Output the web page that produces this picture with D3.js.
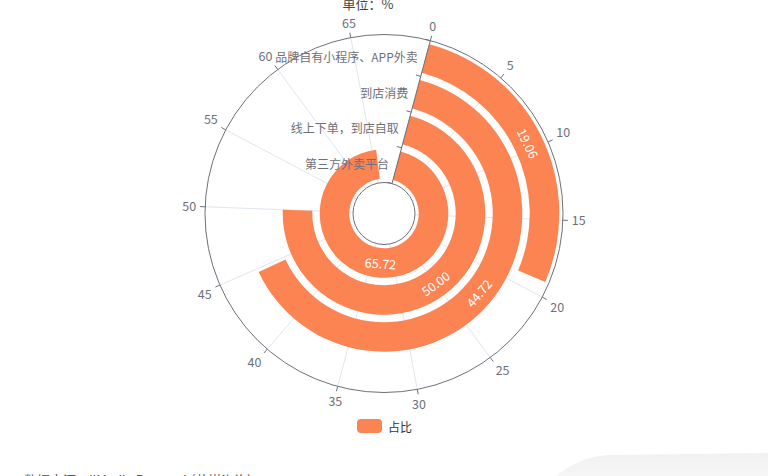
<!DOCTYPE html>
<html>
<head>
<meta charset="utf-8"/>
<script src="https://cdn.jsdelivr.net/npm/d3@7"></script>
<title>Polar bar</title>
<style>
body { margin: 0; background: #fff; }
svg { display: block; font-family: "Noto Sans CJK SC", "Noto Sans", sans-serif; }
</style>
</head>
<body>
<script>
// data
var categories = ["第三方外卖平台", "线上下单，到店自取", "到店消费", "品牌自有小程序、APP外卖"];
var values = [65.72, 50.00, 44.72, 19.06];
var angleTicks = [0, 5, 10, 15, 20, 25, 30, 35, 40, 45, 50, 55, 60, 65];
var seriesName = "占比";
var titleText = "单位：%";
var sourceText = "数据来源：iiMedia Research(艾媒咨询)";

var W = 768, H = 476;
var cx = 384, cy = 213.5, r0 = 31, r1 = 179;
var barColor = "#fc8452", axisColor = "#6E7079", gridColor = "#E0E6F1";
var rad = Math.PI / 180;

var svg = d3.select("body").append("svg")
	.attr("width", W)
	.attr("height", H);

// faint shape in the lower right corner
var grad = svg.append("defs").append("linearGradient")
	.attr("id", "corner").attr("x1", 0).attr("y1", 0).attr("x2", 0).attr("y2", 1);
grad.append("stop").attr("offset", "0%").attr("stop-color", "#f1f1f1");
grad.append("stop").attr("offset", "100%").attr("stop-color", "#f6f6f6");
svg.append("path")
	.attr("d", "M556,476 C575,462 590,455 615,455 L768,453 L768,476 Z")
	.attr("fill", "url(#corner)");

var g = svg.append("g").attr("transform", "translate(" + cx + "," + cy + ")");

//angle axis: 0..70, starting 15 degrees right of top, clockwise
var angle = d3.scaleLinear().domain([0, 70]).range([15 * rad, 375 * rad]);
var radius = d3.scaleBand().domain(categories).range([r0, r1])
	.paddingInner(0.2).paddingOuter(0.1);
var radiusEdge = d3.scaleBand().domain(categories).range([r0, r1]);

function pt(a, r) { return [Math.sin(a) * r, -Math.cos(a) * r]; }

// split lines
g.selectAll("line.split").data(angleTicks).enter().append("line")
	.attr("class", "split")
	.attr("x1", function(d){ return pt(angle(d), r0)[0]; })
	.attr("y1", function(d){ return pt(angle(d), r0)[1]; })
	.attr("x2", function(d){ return pt(angle(d), r1)[0]; })
	.attr("y2", function(d){ return pt(angle(d), r1)[1]; })
	.attr("stroke", gridColor);

// bars
var arc = d3.arc();
g.selectAll("path.bar").data(values).enter().append("path")
	.attr("class", "bar")
	.attr("fill", barColor)
	.attr("d", function(d, i){
		return arc({
			innerRadius: radius(categories[i]),
			outerRadius: radius(categories[i]) + radius.bandwidth(),
			startAngle: angle(0),
			endAngle: angle(d)
		});
	});

// bar labels, tangential
g.selectAll("text.val").data(values).enter().append("text")
	.attr("class", "val")
	.attr("transform", function(d, i){
		var a = (angle(0) + angle(d)) / 2;
		var r = radius(categories[i]) + radius.bandwidth() / 2;
		var p = pt(a, r);
		var deg = a / rad;
		if (deg > 90 && deg < 270) deg -= 180;
		return "translate(" + p[0] + "," + p[1] + ") rotate(" + deg + ")";
	})
	.attr("text-anchor", "middle")
	.attr("dominant-baseline", "central")
	.attr("fill", "#fff")
	.style("font-size", "12.5px")
	.text(function(d){ return d.toFixed(2); });

// angle axis line (outer and inner circle)
g.append("circle").attr("r", r1).attr("fill", "none").attr("stroke", axisColor);
g.append("circle").attr("r", r0).attr("fill", "none").attr("stroke", axisColor);

// angle ticks and labels
g.selectAll("line.atick").data(angleTicks).enter().append("line")
	.attr("class", "atick")
	.attr("x1", function(d){ return pt(angle(d), r1)[0]; })
	.attr("y1", function(d){ return pt(angle(d), r1)[1]; })
	.attr("x2", function(d){ return pt(angle(d), r1 + 5)[0]; })
	.attr("y2", function(d){ return pt(angle(d), r1 + 5)[1]; })
	.attr("stroke", axisColor);

g.selectAll("text.alabel").data(angleTicks).enter().append("text")
	.attr("class", "alabel")
	.each(function(d){
		var a = angle(d), p = pt(a, r1 + 9);
		var sx = Math.sin(a), sy = -Math.cos(a);
		var anchor = Math.abs(sx) < 0.3 ? "middle" : (sx > 0 ? "start" : "end");
		var dy = Math.abs(sy) < 0.3 ? "0.35em" : (sy > 0 ? "0.85em" : "-0.1em");
		d3.select(this)
			.attr("x", p[0]).attr("y", p[1]).attr("dy", dy)
			.attr("text-anchor", anchor);
	})
	.attr("fill", axisColor)
	.style("font-size", "12.5px")
	.text(function(d){ return d; });

// radius axis along the start angle
var a0 = angle(0);
var ux = Math.sin(a0), uy = -Math.cos(a0);   // along axis
var nx = -Math.cos(a0), ny = -Math.sin(a0);  // perpendicular, to the left
g.append("line")
	.attr("x1", ux * r0).attr("y1", uy * r0)
	.attr("x2", ux * r1).attr("y2", uy * r1)
	.attr("stroke", axisColor);

var edges = categories.map(function(c){ return radiusEdge(c); }).concat([r1]);
g.selectAll("line.rtick").data(edges).enter().append("line")
	.attr("class", "rtick")
	.attr("x1", function(r){ return ux * r; })
	.attr("y1", function(r){ return uy * r; })
	.attr("x2", function(r){ return ux * r + nx * 5; })
	.attr("y2", function(r){ return uy * r + ny * 5; })
	.attr("stroke", axisColor);

g.selectAll("text.rlabel").data(categories).enter().append("text")
	.attr("class", "rlabel")
	.attr("x", function(c){ var r = radiusEdge(c) + radiusEdge.bandwidth() / 2; return ux * r + nx * 8; })
	.attr("y", function(c){ var r = radiusEdge(c) + radiusEdge.bandwidth() / 2; return uy * r + ny * 8; })
	.attr("text-anchor", "end")
	.attr("dominant-baseline", "central")
	.attr("fill", axisColor)
	.style("font-size", "12px")
	.text(function(c){ return c; });

// title
svg.append("text")
	.attr("x", 368).attr("y", 9)
	.attr("text-anchor", "middle")
	.attr("fill", "#464646")
	.style("font-size", "13px")
	.text(titleText);

// legend
var lg = svg.append("g").attr("transform", "translate(357,419)");
lg.append("rect").attr("width", 25).attr("height", 14).attr("rx", 4).attr("fill", barColor);
lg.append("text").attr("x", 31).attr("y", 7)
	.attr("dominant-baseline", "central")
	.attr("fill", "#333")
	.style("font-size", "12px")
	.text(seriesName);

// source
svg.append("text")
	.attr("x", 24).attr("y", 485)
	.attr("fill", "#555")
	.style("font-size", "13px")
	.text(sourceText);
</script>
</body>
</html>
